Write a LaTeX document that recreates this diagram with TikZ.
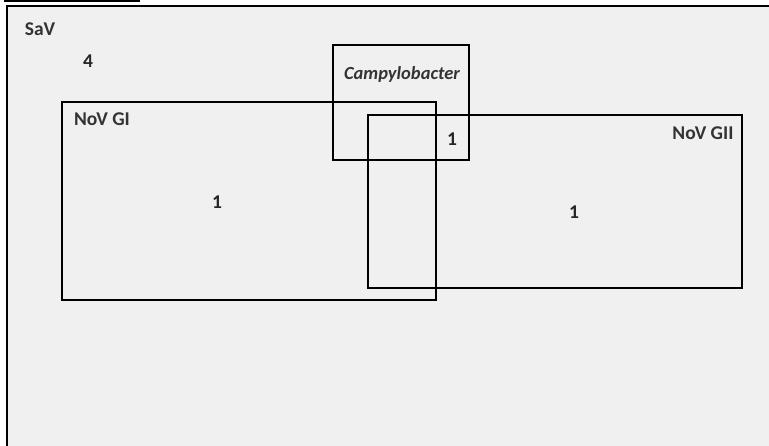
\documentclass[tikz,border=0pt]{standalone}
\usepackage{fontspec}
\setmainfont{Carlito}
\usepackage{tikz}
\usetikzlibrary{positioning}

\definecolor{panel}{HTML}{F0F0F0}

\begin{document}
\begin{tikzpicture}[
    x=1pt, y=-1pt,
    frame/.style={line width=2.4pt, line join=miter},
    setbox/.style={line width=2.4pt},
    lbl/.style={font=\bfseries\fontsize{19.5}{22}\selectfont, text=black!80, inner sep=0pt},
    num/.style={font=\bfseries\fontsize{19.5}{22}\selectfont, text=black!85, inner sep=0pt}
]

\useasboundingbox (0,0) rectangle (769,445);

% === 外框 SaV ===
\fill[panel] (7,6) rectangle (770,446);
\draw[frame] (7,446) -- (7,6) -- (770,6);
\draw[line width=1.6pt] (4,1) -- (140,1);

% === 三个集合 ===
\draw[setbox] (62,102) rectangle (436,300);   % NoV GI
\draw[setbox] (368,115) rectangle (742,288);  % NoV GII
\draw[setbox] (333,45) rectangle (469,160);   % Campylobacter

% === 集合名 ===
\node[lbl] (sav)   at (40,29)   {SaV};
\node[lbl] (gi)    at (102,119) {NoV GI};
\node[lbl] (gii)   at (703,133) {NoV GII};
\node[lbl, font=\bfseries\itshape\fontsize{18.5}{21}\selectfont] (campy) at (402,74) {Campylobacter};

% === 计数 ===
\node[num] (nsav)  at (88,61)   {4};
\node[num] (ngi)   at (217,202) {1};
\node[num] (ngii)  at (574,212) {1};
\node[num] (ncg)   at (452,139) {1};

\end{tikzpicture}
\end{document}
